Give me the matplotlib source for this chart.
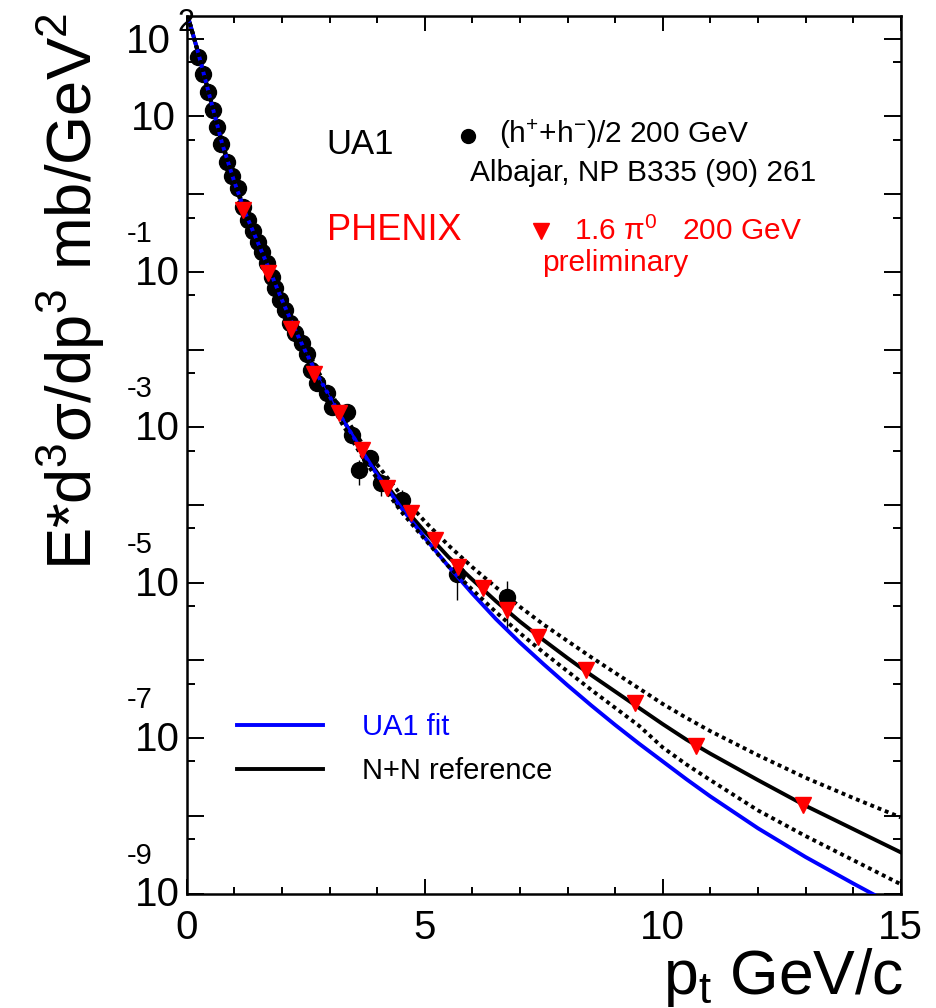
import matplotlib
matplotlib.use("Agg")
import matplotlib.pyplot as plt
import numpy as np
from matplotlib.lines import Line2D
from matplotlib.ticker import FixedLocator, NullFormatter

plt.rcParams['font.family'] = ['Liberation Sans', 'DejaVu Sans']
plt.rcParams['mathtext.fontset'] = 'custom'
plt.rcParams['mathtext.rm'] = 'Liberation Sans'
plt.rcParams['mathtext.it'] = 'Liberation Sans:italic'
plt.rcParams['mathtext.bf'] = 'Liberation Sans:bold'

# UA1 (h+ + h-)/2, 200 GeV
ua1_pt = [0.24, 0.35, 0.45, 0.56, 0.64, 0.72, 0.84, 0.95, 1.08, 1.19, 1.29, 1.40,
          1.50, 1.58, 1.68, 1.79, 1.86, 1.96, 2.07, 2.17, 2.28, 2.42, 2.52, 2.62,
          2.74, 2.95, 3.05, 3.36, 3.47, 3.63, 3.85, 4.08, 4.52, 5.67, 6.72]
ua1_y = [58.9, 35.5, 20.9, 12.0, 7.24, 4.47, 2.63, 1.70, 1.20, 0.692, 0.468, 0.331,
         0.245, 0.182, 0.129, 0.0871, 0.0617, 0.0437, 0.0324, 0.0219, 0.0162, 0.0120,
         8.9e-3, 5.5e-3, 3.7e-3, 2.8e-3, 1.82e-3, 1.58e-3, 7.9e-4, 2.8e-4, 4.0e-4,
         1.9e-4, 1.15e-4, 1.29e-5, 6.6e-6]
ua1_err = [0] * 29 + [1.0e-4, 0, 6e-5, 4e-5, 7e-6, 4e-6]

# PHENIX pi0 (x1.6), preliminary
phx_pt = [1.18, 1.70, 2.19, 2.67, 3.19, 3.68, 4.20, 4.72, 5.22, 5.71, 6.23, 6.72,
          7.39, 8.39, 9.42, 10.69, 12.95]
phx_y = [0.631, 0.0955, 0.0182, 4.9e-3, 1.51e-3, 5.1e-4, 1.66e-4, 7.9e-5, 3.55e-5,
         1.58e-5, 8.5e-6, 4.47e-6, 2.0e-6, 7.6e-7, 2.8e-7, 7.8e-8, 1.38e-8]

# curves, sampled (log10 of cross section)
curve_pt = [0.02, 0.25, 0.5, 0.75, 1.0, 1.25, 1.5, 1.75, 2.0, 2.25, 2.5, 2.75, 3.0,
            3.25, 3.5, 3.75, 4.0, 4.5, 5.0, 5.5, 6.0, 6.5, 7.0, 7.5, 8.0, 8.5, 9.0,
            9.5, 10.0, 10.5, 11.0, 12.0, 13.0, 14.0, 15.0]
ua1fit_log = [2.30, 1.80, 1.22, 0.64, 0.16, -0.27, -0.63, -0.99, -1.36, -1.71, -2.03,
              -2.33, -2.60, -2.87, -3.12, -3.37, -3.61, -4.03, -4.42, -4.79, -5.14,
              -5.47, -5.77, -6.05, -6.32, -6.58, -6.83, -7.07, -7.30, -7.53, -7.75,
              -8.16, -8.53, -8.87, -9.20]
nn_log = [2.30, 1.80, 1.22, 0.64, 0.16, -0.27, -0.63, -0.99, -1.36, -1.71, -2.03,
          -2.33, -2.60, -2.87, -3.12, -3.36, -3.58, -3.99, -4.34, -4.67, -4.96,
          -5.24, -5.50, -5.74, -5.97, -6.19, -6.40, -6.61, -6.82, -7.02, -7.20,
          -7.54, -7.87, -8.17, -8.47]
nn_hi_log = [2.30, 1.81, 1.23, 0.66, 0.18, -0.25, -0.60, -0.96, -1.32, -1.66, -1.97,
             -2.27, -2.53, -2.79, -3.03, -3.27, -3.48, -3.87, -4.21, -4.52, -4.80,
             -5.06, -5.31, -5.54, -5.75, -5.96, -6.16, -6.36, -6.56, -6.74, -6.91,
             -7.22, -7.51, -7.77, -8.02]
nn_lo_log = [2.30, 1.79, 1.21, 0.62, 0.14, -0.29, -0.66, -1.02, -1.40, -1.76, -2.08,
             -2.39, -2.66, -2.94, -3.19, -3.44, -3.66, -4.08, -4.44, -4.79, -5.09,
             -5.38, -5.65, -5.90, -6.14, -6.38, -6.61, -6.84, -7.12, -7.34, -7.54,
             -7.93, -8.26, -8.57, -8.88]

y_exps = [2, 1, -1, -3, -5, -7, -9]

W, H = 937, 1008


def fx(x):
    return x / W


def fy(y):
    return 1 - y / H


fig = plt.figure(figsize=(W / 100, H / 100), dpi=100)
ax = fig.add_axes([fx(186.7), fy(893.5), (900.7 - 186.7) / W, (893.5 - 16) / H])

# data
ax.errorbar(ua1_pt, ua1_y, yerr=ua1_err, fmt='o', color='black', ms=11.5,
            elinewidth=1, capsize=0, zorder=2)
cp = np.array(curve_pt)
ax.plot(cp, 10 ** np.array(nn_log), color='black', lw=2.8, zorder=3)
ax.plot(cp, 10 ** np.array(ua1fit_log), color='#0000ff', lw=2.8, zorder=4)
ax.plot(cp, 10 ** np.array(nn_hi_log), color='black', lw=2.8, ls=(0, (1, 1)), zorder=5)
ax.plot(cp, 10 ** np.array(nn_lo_log), color='black', lw=2.8, ls=(0, (1, 1)), zorder=5)
ax.plot(phx_pt, phx_y, 'v', color='#ff0000', ms=12, zorder=6)

ax.set_xlim(0, 15)
ax.set_yscale('log')
ax.set_ylim(1e-9, 10 ** 2.293)

ax.set_xticks([0, 5, 10, 15])
ax.xaxis.set_minor_locator(FixedLocator(list(range(16))))
ax.yaxis.set_major_locator(FixedLocator([10.0 ** k for k in range(-9, 3)]))
ax.yaxis.set_minor_locator(FixedLocator([5 * 10.0 ** k for k in range(-9, 2)]))
ax.yaxis.set_major_formatter(NullFormatter())
ax.yaxis.set_minor_formatter(NullFormatter())

ax.tick_params(which='both', direction='in', top=True, right=True, width=1.4,
               colors='black')
ax.tick_params(axis='x', which='major', length=11, labelsize=29, pad=11)
ax.tick_params(axis='x', which='minor', length=5)
ax.tick_params(axis='y', which='major', length=12)
ax.tick_params(axis='y', which='minor', length=6)
for s in ax.spines.values():
    s.set_linewidth(1.8)

# ROOT-style y tick labels
ytr = ax.get_yaxis_transform()
for e in y_exps:
    if e == 2:
        ax.annotate('10', xy=(0, 10.0 ** e), xycoords=ytr,
                    xytext=(-16, -3), textcoords='offset pixels',
                    ha='right', va='center', fontsize=29)
        ax.annotate(str(e), xy=(0, 10.0 ** e), xycoords=ytr,
                    xytext=(-9, 16), textcoords='offset pixels',
                    ha='left', va='center', fontsize=22, zorder=10)
    elif e == 1:
        ax.annotate('10', xy=(0, 10.0 ** e), xycoords=ytr,
                    xytext=(-11, -3), textcoords='offset pixels',
                    ha='right', va='center', fontsize=29)
    else:
        ax.annotate('10', xy=(0, 10.0 ** e), xycoords=ytr,
                    xytext=(-7, -2), textcoords='offset pixels',
                    ha='right', va='center', fontsize=29)
        ax.annotate(str(e), xy=(0, 10.0 ** e), xycoords=ytr,
                    xytext=(-60, 38), textcoords='offset pixels',
                    ha='left', va='center', fontsize=21)

# axis titles
fig.text(fx(92), fy(570), r'E*d$^{3}$σ/dp$^{3}$ mb/GeV$^{2}$', rotation=90,
         rotation_mode='anchor', ha='left', va='baseline', fontsize=45.5)
fig.text(fx(904), fy(994), r'p$_{\mathrm{t}}$ GeV/c', ha='right', va='baseline',
         fontsize=45)

# annotations
fig.text(fx(326.6), fy(154), 'UA1', fontsize=25, va='baseline')
fig.add_artist(Line2D([fx(468)], [fy(136)], marker='o', ms=10, color='black'))
fig.text(fx(498.6), fy(143), r'(h$^{+}$+h$^{-}$)/2 200 GeV', fontsize=21.5,
         va='baseline')
fig.text(fx(470), fy(181), 'Albajar, NP B335 (90) 261', fontsize=21.5, va='baseline')
fig.text(fx(326.6), fy(240), 'PHENIX', fontsize=26, va='baseline', color='#ff0000')
fig.add_artist(Line2D([fx(541)], [fy(231)], marker='v', ms=11, color='#ff0000'))
fig.text(fx(574), fy(240), r'1.6 π$^{0}$   200 GeV', fontsize=21.5,
         va='baseline', color='#ff0000')
fig.text(fx(541.6), fy(271), 'preliminary', fontsize=21.5, va='baseline',
         color='#ff0000')

# legend
fig.add_artist(Line2D([fx(237), fx(323)], [fy(725), fy(725)], color='#0000ff', lw=2.8))
fig.text(fx(362), fy(735), 'UA1 fit', fontsize=21, va='baseline', color='#0000ff')
fig.add_artist(Line2D([fx(237), fx(323)], [fy(769), fy(769)], color='black', lw=2.8))
fig.text(fx(362), fy(779), 'N+N reference', fontsize=21, va='baseline')

fig.savefig('out.png', dpi=100)
